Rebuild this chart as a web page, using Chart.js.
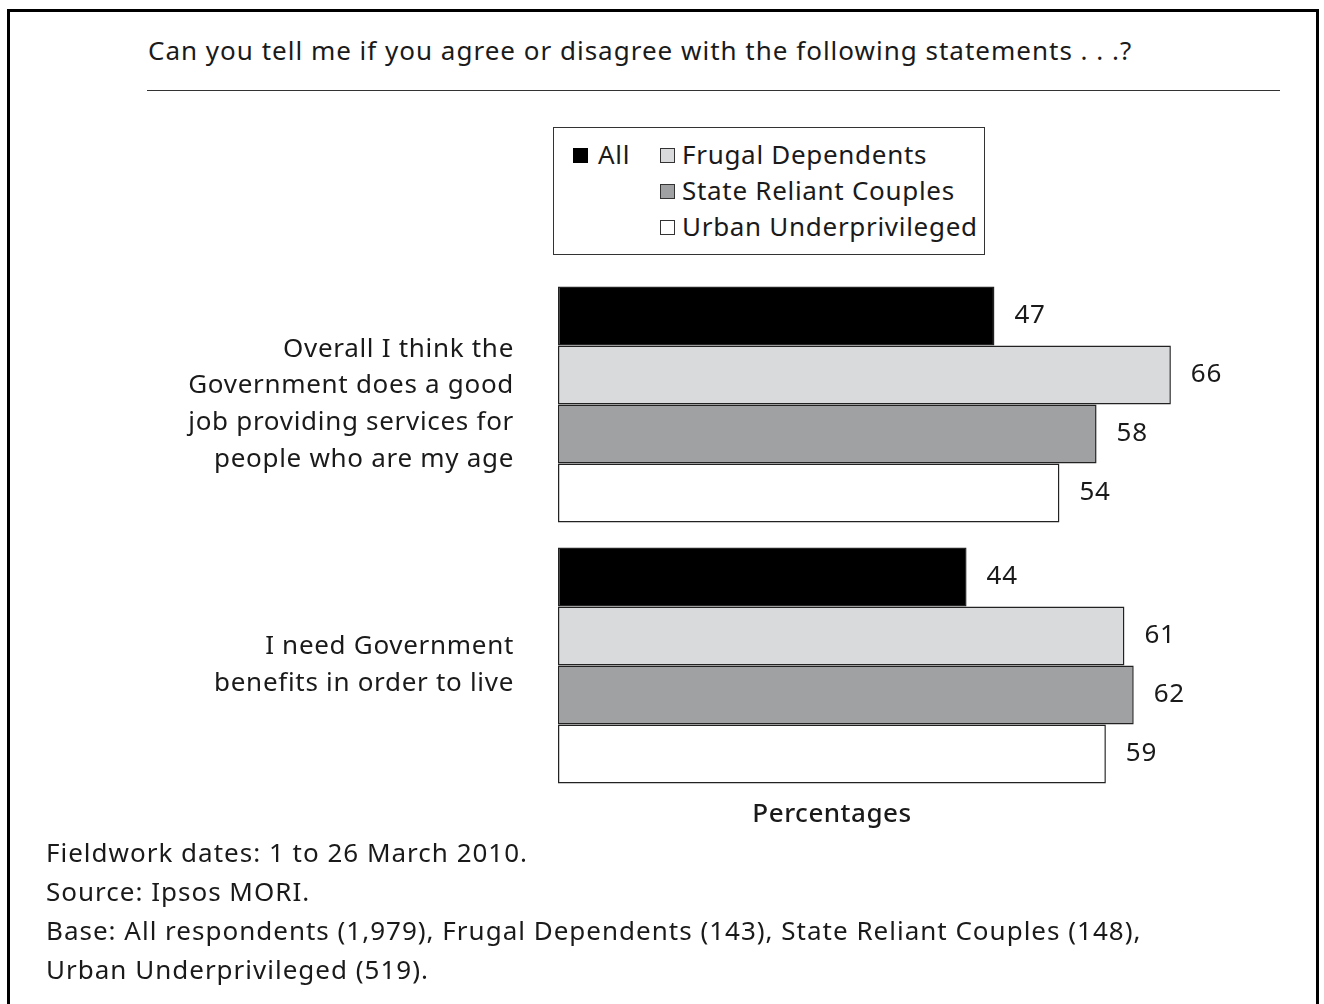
<!DOCTYPE html>
<html>
<head>
<meta charset="utf-8">
<script src="https://cdn.jsdelivr.net/npm/chart.js@4.4.1/dist/chart.umd.min.js"></script>
<style>
  html, body { margin: 0; padding: 0; overflow: hidden; background: #fff; }
  body { width: 1324px; height: 1004px; position: relative; font-family: "Noto Sans", sans-serif; color: #1a1a1a; letter-spacing: 1px; }
  .frame { position: absolute; left: 7px; top: 9px; width: 1306px; height: 1100px; border: 3px solid #000; }
  .title { position: absolute; left: 148px; top: 31px; font-size: 26px; line-height: 38px; white-space: nowrap; }
  .rule { position: absolute; left: 147px; top: 90px; width: 1133px; height: 0; border-top: 1.5px solid #333; }
  .legend { position: absolute; left: 553px; top: 127px; width: 430px; height: 126px; border: 1.5px solid #333; }
  .legend .item { position: absolute; font-size: 26px; line-height: 36px; white-space: nowrap; letter-spacing: 0.7px; }
  .legend .sw { display: inline-block; width: 13px; height: 13px; border: 1.5px solid #333; margin-right: 7px; vertical-align: 1px; }
  #chartWrap { position: absolute; left: 0; top: 0; width: 1324px; height: 1004px; }
  .xtitle { position: absolute; left: 732px; width: 200px; top: 793px; text-align: center; font-size: 26px; font-weight: 500; line-height: 38px; letter-spacing: 0.5px; }
  .notes { position: absolute; left: 46px; top: 833px; font-size: 26px; line-height: 39px; white-space: nowrap; }
</style>
</head>
<body>
<div class="frame"></div>
<div class="title">Can you tell me if you agree or disagree with the following statements . . .?</div>
<div class="rule"></div>
<div class="legend" id="legend"></div>
<div id="chartWrap"><canvas id="chart" width="1324" height="1004"></canvas></div>
<div class="xtitle">Percentages</div>
<div class="notes">
  Fieldwork dates: 1 to 26 March 2010.<br>
  Source: Ipsos MORI.<br>
  Base: All respondents (1,979), Frugal Dependents (143), State Reliant Couples (148),<br>
  Urban Underprivileged (519).
</div>
<script>
// data
const categories = [
  ['Overall I think the', 'Government does a good', 'job providing services for', 'people who are my age'],
  ['I need Government', 'benefits in order to live']
];
const seriesNames = ['All', 'Frugal Dependents', 'State Reliant Couples', 'Urban Underprivileged'];
const allValues = [47, 44];
const frugalValues = [66, 61];
const stateValues = [58, 62];
const urbanValues = [54, 59];
const seriesColors = ['#000000', '#d9dadc', '#a0a1a3', '#ffffff'];

window.addEventListener('load', () => {

  // legend: "All" in its own column, the rest stacked
  const legendEl = document.getElementById('legend');
  const spots = [[19, 9], [106, 9], [106, 45], [106, 81]];
  seriesNames.forEach((name, i) => {
    const it = document.createElement('div');
    it.className = 'item';
    it.style.left = spots[i][0] + 'px';
    it.style.top = (spots[i][1] - 1) + 'px';
    const sw = document.createElement('span');
    sw.className = 'sw';
    sw.style.background = seriesColors[i];
    if (i === 0) { sw.style.borderColor = '#000'; sw.style.marginRight = '10px'; }
    it.appendChild(sw);
    it.appendChild(document.createTextNode(name));
    legendEl.appendChild(it);
  });

  // wider text spacing like the source font
  const spacing = {
    id: 'spacing',
    beforeDraw(chart) { chart.ctx.letterSpacing = '0.7px'; }
  };

  // value labels at bar ends
  const valueLabels = {
    id: 'valueLabels',
    afterDatasetsDraw(chart) {
      const ctx = chart.ctx;
      ctx.save();
      ctx.font = '26px "Noto Sans"';
      ctx.fillStyle = '#1a1a1a';
      ctx.textAlign = 'left';
      ctx.textBaseline = 'middle';
      chart.data.datasets.forEach((ds, di) => {
        chart.getDatasetMeta(di).data.forEach((bar, i) => {
          ctx.fillText(String(ds.data[i]), bar.x + 20, bar.y);
        });
      });
      ctx.restore();
    }
  };

  const mk = (i, data) => ({
    label: seriesNames[i], data: data,
    backgroundColor: seriesColors[i], borderColor: '#222', borderWidth: 1.5,
    borderSkipped: false, categoryPercentage: 0.904, barPercentage: 1
  });

  new Chart(document.getElementById('chart'), {
    type: 'bar',
    data: {
      labels: categories,
      datasets: [mk(0, allValues), mk(1, frugalValues), mk(2, stateValues), mk(3, urbanValues)]
    },
    options: {
      indexAxis: 'y',
      responsive: false,
      animation: false,
      layout: { padding: { left: 0, right: 116, top: 274, bottom: 208 } },
      plugins: { legend: { display: false }, tooltip: { enabled: false } },
      scales: {
        x: { min: 0, max: 70, display: false, grid: { display: false } },
        y: {
          grid: { display: false },
          border: { display: false },
          ticks: { padding: 36, color: '#1a1a1a', font: { family: 'Noto Sans', size: 26, lineHeight: 1.42 } },
          afterFit(scale) { scale.width = 558; }
        }
      }
    },
    plugins: [spacing, valueLabels]
  });
});
</script>
</body>
</html>
